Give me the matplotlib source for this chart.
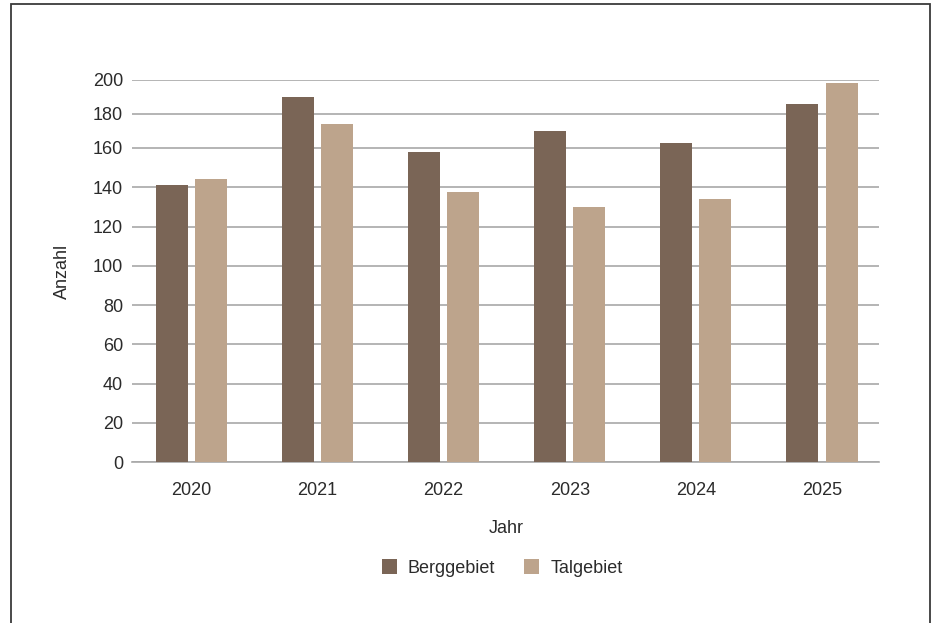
import numpy as np
import matplotlib.pyplot as plt
from matplotlib.patches import Rectangle

plt.rcParams['font.family'] = ['Liberation Sans', 'DejaVu Sans']

years = ['2020', '2021', '2022', '2023', '2024', '2025']
berg = [141, 190, 158, 170, 163, 186]
tal = [144, 174, 137.5, 130, 134, 198]
yticks = [0, 20, 40, 60, 80, 100, 120, 140, 160, 180, 200]

c_berg = '#7a6556'
c_tal = '#bda48c'
c_text = '#2b2b2b'
fs = 13

# the reference axis is squeezed above 160
k = 0.8647


def fwd(v):
    v = np.asarray(v, dtype=float)
    return np.where(v <= 160, v, 160 + (v - 160) * k)


def inv(y):
    y = np.asarray(y, dtype=float)
    return np.where(y <= 160, y, 160 + (y - 160) / k)


fig = plt.figure(figsize=(9.35, 6.23), dpi=100)
ax = fig.add_axes([0.1415, 0.258, 0.7989, 0.6136])
ax.set_yscale('function', functions=(fwd, inv))

x = np.arange(len(years))
w = 0.254
off = 0.155
ax.bar(x - off, berg, w, color=c_berg, label='Berggebiet', zorder=3)
ax.bar(x + off, tal, w, color=c_tal, label='Talgebiet', zorder=3)

ax.set_xlim(-0.469, 5.454)
ax.set_ylim(0, 200)
ax.set_yticks(yticks)
ax.set_yticklabels([str(t) for t in yticks])
ax.set_xticks(x)
ax.set_xticklabels(years)
ax.yaxis.grid(True, color='#a8a8a8', linewidth=1.2, zorder=0)
ax.tick_params(axis='both', length=0, labelsize=fs, colors=c_text)
ax.tick_params(axis='y', pad=6.7)
ax.tick_params(axis='x', pad=14)
for s in ['left', 'right', 'top']:
    ax.spines[s].set_visible(False)
ax.spines['bottom'].set_color('#a8a8a8')
ax.spines['bottom'].set_linewidth(1.2)

ax.set_xlabel('Jahr', fontsize=fs, color=c_text)
ax.xaxis.set_label_coords(0.5, -0.152)
ax.set_ylabel('Anzahl', fontsize=fs, color=c_text)
ax.yaxis.set_label_coords(-0.082, 0.5)

fig.legend(loc='center', bbox_to_anchor=(502 / 935, 1 - 568 / 623), ncol=2,
           frameon=False, fontsize=fs, handlelength=0.85, handleheight=0.85,
           handletextpad=0.6, columnspacing=1.6, labelcolor=c_text)

fig.patches.append(Rectangle((11 / 935, -0.05), 919 / 935, 1 - 4 / 623 + 0.05,
                             transform=fig.transFigure, fill=False,
                             edgecolor='#3a3a3a', linewidth=1.3))

fig.savefig('out.png', dpi=100)
